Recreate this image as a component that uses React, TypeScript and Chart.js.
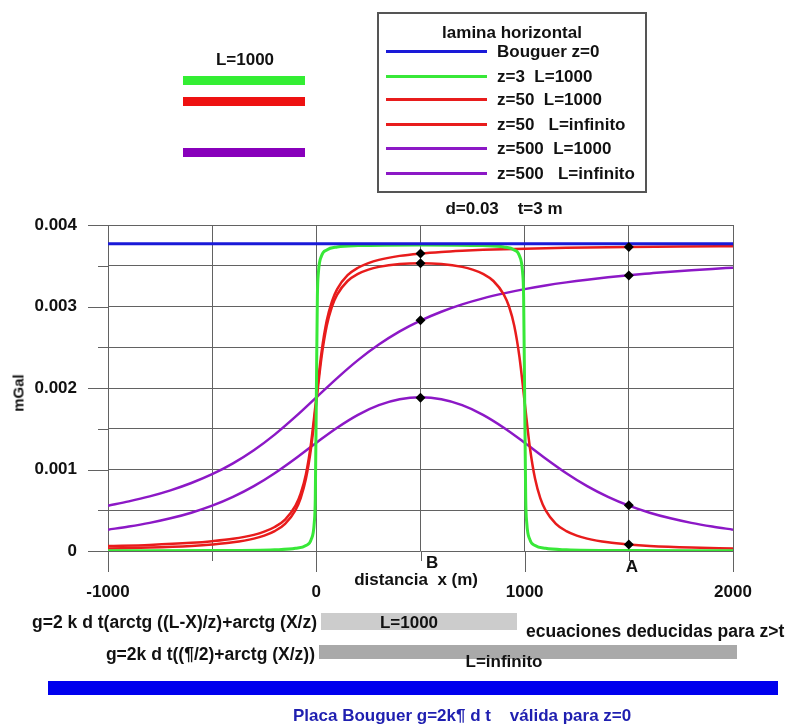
import React, { useEffect, useRef } from 'react';
import { Chart, registerables } from 'chart.js';

Chart.register(...registerables);

const FONT = "'Liberation Sans', Arial, Helvetica, sans-serif";

// ---- data ----
const BOUGUER = 0.00377;
const BOUGUER_X = [-1000, 2000];

const GREEN_X = [-1000, -500, -200, -100, -50, -25, -10, -5, 0, 5, 10, 25, 50, 100, 200, 500, 800, 900, 950, 975, 990, 995, 1000, 1005, 1010, 1025, 1050, 1100, 1200, 1500, 2000];
const GREEN_Y = [0.0000018, 0.0000048, 0.000015, 0.0000327, 0.0000684, 0.00014, 0.000346, 0.000645, 0.001881, 0.003118, 0.003417, 0.003623, 0.003694, 0.00373, 0.003747, 0.003756, 0.003747, 0.00373, 0.003694, 0.003623, 0.003417, 0.003118, 0.001881, 0.000645, 0.000346, 0.00014, 0.0000684, 0.0000327, 0.000015, 0.0000048, 0.0000018];

const RED1000_X = [-1000, -800, -600, -500, -400, -300, -250, -200, -150, -100, -75, -50, -25, 0, 25, 50, 75, 100, 150, 200, 250, 300, 400, 500, 600, 700, 750, 800, 850, 900, 925, 950, 975, 1000, 1025, 1050, 1075, 1100, 1150, 1200, 1250, 1300, 1400, 1500, 1600, 1800, 2000];
const RED1000_Y = [0.00003, 0.0000416, 0.0000623, 0.0000796, 0.000106, 0.000152, 0.000189, 0.000244, 0.000334, 0.000502, 0.00065, 0.000885, 0.00127, 0.001825, 0.00238, 0.002764, 0.003, 0.003147, 0.003313, 0.003401, 0.003453, 0.003486, 0.003521, 0.003531, 0.003521, 0.003486, 0.003453, 0.003401, 0.003313, 0.003147, 0.003, 0.002764, 0.00238, 0.001825, 0.00127, 0.000885, 0.00065, 0.000502, 0.000334, 0.000244, 0.000189, 0.000152, 0.000106, 0.0000796, 0.0000623, 0.0000416, 0.00003];

const REDINF_X = [-1000, -800, -600, -500, -400, -300, -250, -200, -150, -100, -75, -50, -25, 0, 25, 50, 75, 100, 150, 200, 250, 300, 400, 500, 600, 700, 800, 1000, 1200, 1500, 1750, 2000];
const REDINF_Y = [0.00006, 0.0000749, 0.0000998, 0.00012, 0.000149, 0.000198, 0.000237, 0.000294, 0.000386, 0.000556, 0.000706, 0.000942, 0.001329, 0.001885, 0.002441, 0.002827, 0.003064, 0.003214, 0.003384, 0.003476, 0.003533, 0.003572, 0.003621, 0.00365, 0.00367, 0.003684, 0.003695, 0.00371, 0.00372, 0.00373, 0.003736, 0.00374];

const PURPLE_X = [-1000, -900, -800, -700, -600, -500, -400, -300, -200, -100, 0, 100, 200, 300, 400, 500, 600, 700, 800, 900, 1000, 1100, 1200, 1300, 1400, 1500, 1600, 1700, 1800, 1900, 2000];
const PURPLE1000_Y = [0.000262, 0.0003, 0.000345, 0.000401, 0.00047, 0.000556, 0.000664, 0.000796, 0.000955, 0.001136, 0.001329, 0.001513, 0.001671, 0.001789, 0.001861, 0.001885, 0.001861, 0.001789, 0.001671, 0.001513, 0.001329, 0.001136, 0.000955, 0.000796, 0.000664, 0.000556, 0.00047, 0.000401, 0.000345, 0.0003, 0.000262];
const PURPLEINF_Y = [0.000556, 0.000609, 0.00067, 0.000744, 0.000834, 0.000942, 0.001075, 0.001236, 0.001428, 0.001648, 0.001885, 0.002122, 0.002342, 0.002533, 0.002695, 0.002827, 0.002936, 0.003026, 0.0031, 0.003161, 0.003213, 0.003258, 0.003296, 0.003329, 0.003358, 0.003384, 0.003406, 0.003427, 0.003445, 0.003461, 0.003476];

const MARK_X = [500, 500, 500, 500, 1500, 1500, 1500, 1500];
const MARK_Y = [0.00365, 0.00353, 0.00283, 0.00188, 0.00373, 0.00338, 0.00056, 0.00008];

const LEGEND_LABELS = ['Bouguer z=0', 'z=3  L=1000', 'z=50  L=1000', 'z=50   L=infinito', 'z=500  L=1000', 'z=500   L=infinito'];

const BLUE = '#1a1ad8';
const GREEN = '#38e838';
const RED = '#e81c1c';
const PURPLE = '#8c18c6';
const GRID = '#626262';

const pts = (xs: number[], ys: number[]) => xs.map((x, i) => ({ x, y: ys[i] }));

const tickExt = {
  id: 'tickExt',
  afterDraw(chart: any) {
    const { ctx, chartArea, scales } = chart;
    ctx.save();
    ctx.strokeStyle = GRID;
    ctx.lineWidth = 1;
    ctx.beginPath();
    scales.x.ticks.forEach((t: any) => {
      const px = Math.round(scales.x.getPixelForValue(t.value)) + 0.5;
      const major = Math.abs(t.value % 1000) < 1e-6;
      ctx.moveTo(px, chartArea.bottom);
      ctx.lineTo(px, chartArea.bottom + (major ? 21 : 10));
    });
    scales.y.ticks.forEach((t: any) => {
      const py = Math.round(scales.y.getPixelForValue(t.value)) + 0.5;
      const k = t.value * 1000;
      const major = Math.abs(k - Math.round(k)) < 1e-6;
      ctx.moveTo(chartArea.left - (major ? 20 : 10), py);
      ctx.lineTo(chartArea.left, py);
    });
    ctx.stroke();
    ctx.restore();
  },
};

type TP = { x: number; y: number; a?: 'c' | 'l' | 'r'; color?: string; size?: number; children: React.ReactNode };
const T = ({ x, y, a = 'c', color = '#111', size = 17, children }: TP) => (
  <div
    style={{
      position: 'absolute',
      left: x,
      top: y,
      transform: a === 'c' ? 'translate(-50%,-50%)' : a === 'l' ? 'translate(0,-50%)' : 'translate(-100%,-50%)',
      whiteSpace: 'pre',
      lineHeight: 1,
      fontSize: size,
      color,
    }}
  >
    {children}
  </div>
);

const Box = ({ x, y, w, h, bg }: { x: number; y: number; w: number; h: number; bg: string }) => (
  <div style={{ position: 'absolute', left: x, top: y, width: w, height: h, background: bg }} />
);

export default function App() {
  const ref = useRef<HTMLCanvasElement>(null);

  useEffect(() => {
    const lineDs = (data: any[], color: string, width: number) => ({
      type: 'line' as const,
      data,
      borderColor: color,
      backgroundColor: color,
      borderWidth: width,
      pointRadius: 0,
      fill: false,
      cubicInterpolationMode: 'monotone' as const,
    });
    const chart = new Chart(ref.current!, {
      type: 'line',
      data: {
        datasets: [
          {
            type: 'scatter',
            data: pts(MARK_X, MARK_Y),
            pointStyle: 'rectRot',
            pointRadius: 5,
            backgroundColor: '#000',
            borderColor: '#000',
            borderWidth: 0,
            showLine: false,
          } as any,
          lineDs(pts(BOUGUER_X, [BOUGUER, BOUGUER]), BLUE, 3),
          lineDs(pts(GREEN_X, GREEN_Y), GREEN, 3),
          lineDs(pts(RED1000_X, RED1000_Y), RED, 2.5),
          lineDs(pts(REDINF_X, REDINF_Y), RED, 2.5),
          lineDs(pts(PURPLE_X, PURPLE1000_Y), PURPLE, 2.5),
          lineDs(pts(PURPLE_X, PURPLEINF_Y), PURPLE, 2.5),
        ],
      },
      options: {
        responsive: false,
        animation: false,
        devicePixelRatio: 1,
        layout: { padding: { top: 225, right: 54, left: 0, bottom: 0 } },
        plugins: { legend: { display: false }, tooltip: { enabled: false } },
        scales: {
          x: {
            type: 'linear',
            min: -1000,
            max: 2000,
            border: { display: false },
            grid: { color: GRID, lineWidth: 1, drawTicks: false },
            ticks: {
              stepSize: 500,
              autoSkip: false,
              maxRotation: 0,
              padding: 31,
              color: '#111',
              font: { family: FONT, size: 17, weight: 'bold' },
              callback: (v: any) => (Math.abs(Number(v) % 1000) < 1e-6 ? String(v) : ''),
            },
            afterFit: (s: any) => {
              s.height = 173;
            },
          },
          y: {
            type: 'linear',
            min: 0,
            max: 0.004,
            border: { display: false },
            grid: { color: GRID, lineWidth: 1, drawTicks: false },
            ticks: {
              stepSize: 0.0005,
              autoSkip: false,
              padding: 31,
              color: '#111',
              font: { family: FONT, size: 17, weight: 'bold' },
              callback: (v: any) => {
                const k = Number(v) * 1000;
                const r = Math.round(k);
                if (Math.abs(k - r) > 1e-6) return '';
                return r === 0 ? '0' : (r / 1000).toFixed(3);
              },
            },
            afterFit: (s: any) => {
              s.width = 108;
            },
          },
        },
      },
      plugins: [tickExt],
    });
    return () => chart.destroy();
  }, []);

  const legendColors = [BLUE, GREEN, RED, RED, PURPLE, PURPLE];
  const legendY = [51, 76, 99, 124, 148, 173];

  return (
    <div
      style={{
        position: 'absolute',
        left: 0,
        top: 0,
        width: 787,
        height: 724,
        fontFamily: FONT,
        fontWeight: 'bold',
        color: '#111',
        background: '#fff',
        overflow: 'hidden',
      }}
    >
      <canvas ref={ref} width={787} height={724} style={{ position: 'absolute', left: 0, top: 0, width: 787, height: 724 }} />

      {/* top-left key */}
      <T x={245} y={59}>L=1000</T>
      <Box x={183} y={76} w={122} h={9} bg="#33ee33" />
      <Box x={183} y={97} w={122} h={9} bg="#ee1111" />
      <Box x={183} y={148} w={122} h={9} bg="#8800bb" />

      {/* legend box */}
      <div style={{ position: 'absolute', left: 377, top: 12, width: 270, height: 181, border: '2px solid #555', boxSizing: 'border-box' }} />
      <T x={512} y={32}>lamina horizontal</T>
      {LEGEND_LABELS.map((lab, i) => (
        <React.Fragment key={lab}>
          <Box x={386} y={legendY[i] - 1} w={101} h={3} bg={legendColors[i]} />
          <T x={497} y={legendY[i]} a="l">
            {lab}
          </T>
        </React.Fragment>
      ))}
      <T x={504} y={208}>{'d=0.03    t=3 m'}</T>

      {/* axis annotations */}
      <div
        style={{
          position: 'absolute',
          left: 18,
          top: 393,
          transform: 'translate(-50%,-50%) rotate(-90deg)',
          fontSize: 15,
          lineHeight: 1,
          whiteSpace: 'pre',
        }}
      >
        mGal
      </div>
      <T x={426} y={562} a="l">B</T>
      <T x={632} y={566}>A</T>
      <T x={478} y={579} a="r">{'distancia  x (m)'}</T>

      {/* equations */}
      <Box x={321} y={613} w={196} h={17} bg="#cccccc" />
      <T x={409} y={622}>L=1000</T>
      <T x={317} y={623} a="r" size={17.5}>{'g=2 k d t(arctg ((L-X)/z)+arctg (X/z)'}</T>
      <T x={526} y={632} a="l" size={17.5}>ecuaciones deducidas para z&gt;t</T>
      <T x={315} y={655} a="r" size={17.5}>{'g=2k d t((¶/2)+arctg (X/z))'}</T>
      <Box x={319} y={645} w={418} h={14} bg="#a9a9a9" />
      <T x={504} y={661}>L=infinito</T>
      <Box x={48} y={681} w={730} h={14} bg="#0000ee" />
      <T x={293} y={715} a="l" color="#1f1fb0">{'Placa Bouguer g=2k¶ d t    válida para z=0'}</T>
    </div>
  );
}
